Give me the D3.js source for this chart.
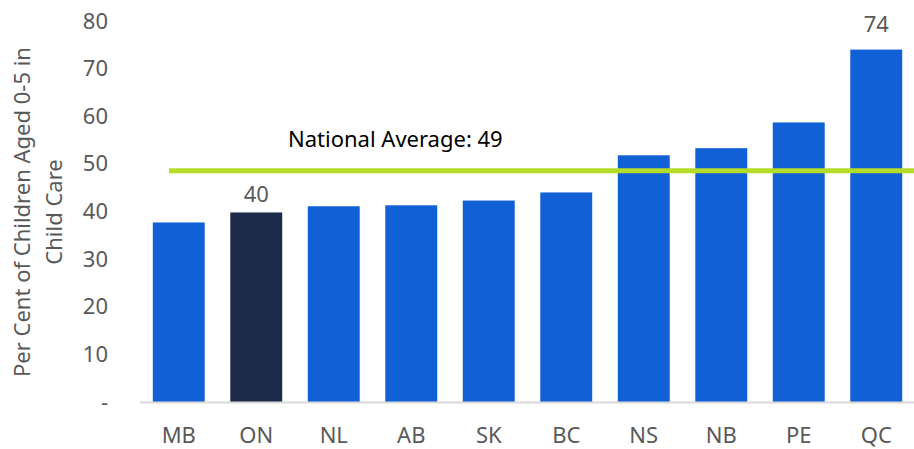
<!DOCTYPE html>
<html>
<head>
<meta charset="utf-8">
<script src="https://cdn.jsdelivr.net/npm/d3@7"></script>
<style>
  body { margin: 0; background: #fff; }
  text { font-family: "Noto Sans", "Open Sans", sans-serif; fill: #595959; }
</style>
</head>
<body>
<svg id="chart" width="914" height="449"></svg>
<script>
var provinces = ["MB", "ON", "NL", "AB", "SK", "BC", "NS", "NB", "PE", "QC"];
var childCareRates = [37.7, 39.8, 41.1, 41.3, 42.3, 44.0, 51.8, 53.3, 58.7, 74.0];
var labelledProvinces = {ON: "40", QC: "74"};
var nationalAverage = [49];
var yTicks = [0, 10, 20, 30, 40, 50, 60, 70, 80];

var BAR_BLUE = "#1160d5";
var BAR_NAVY = "#1c2b4a";
var AVG_GREEN = "#b5dc28";
var FONT = "22px";

var svg = d3.select("#chart");

var x = d3.scaleBand().domain(provinces).range([140, 915])
    .paddingInner(0.33).paddingOuter(0.165);
var y = d3.scaleLinear().domain([0, 80]).range([402, 21]);

// y axis labels, no axis line
var yAxis = d3.axisLeft(y).tickValues(yTicks).tickSize(0).tickPadding(0)
    .tickFormat(function (d) { return d === 0 ? "-" : d; });
var gy = svg.append("g").attr("transform", "translate(108,0)").call(yAxis);
gy.select(".domain").remove();
gy.selectAll("text").style("font-size", FONT).attr("fill", "#595959");

// bars
svg.append("g").selectAll("rect").data(provinces).join("rect")
    .attr("x", function (d) { return x(d); })
    .attr("width", x.bandwidth())
    .attr("y", function (d, i) { return y(childCareRates[i]); })
    .attr("height", function (d, i) { return y(0) - y(childCareRates[i]); })
    .attr("fill", function (d) { return d === "ON" ? BAR_NAVY : BAR_BLUE; });

// x axis
var xAxis = d3.axisBottom(x).tickSize(0).tickPadding(25);
var gx = svg.append("g").attr("transform", "translate(0," + y(0) + ")").call(xAxis);
gx.select(".domain").attr("stroke", "#d9d9d9").attr("stroke-width", 2)
    .attr("d", "M140,0.5H914");
gx.selectAll("text").style("font-size", FONT).attr("fill", "#595959");

// value labels (gap above bar)
var labelGap = {ON: 10, QC: 18};
svg.append("g").selectAll("text").data(provinces.filter(function (d) { return labelledProvinces[d]; }))
    .join("text")
    .attr("x", function (d) { return x(d) + x.bandwidth() / 2; })
    .attr("y", function (d) { return y(childCareRates[provinces.indexOf(d)]) - labelGap[d]; })
    .attr("text-anchor", "middle")
    .style("font-size", FONT)
    .text(function (d) { return labelledProvinces[d]; });

// national average line
svg.append("line")
    .attr("x1", 169).attr("x2", 914)
    .attr("y1", y(nationalAverage[0]) + 2).attr("y2", y(nationalAverage[0]) + 2)
    .attr("stroke", AVG_GREEN).attr("stroke-width", 5);

svg.append("text")
    .attr("x", 288).attr("y", 147)
    .style("font-size", FONT)
    .style("fill", "#000")
    .text("National Average: " + nationalAverage[0]);

// y axis title
var title = svg.append("text")
    .attr("transform", "translate(0,212) rotate(-90)")
    .attr("text-anchor", "middle")
    .style("font-size", FONT);
title.append("tspan").attr("x", 0).attr("y", 30).text("Per Cent of Children Aged 0-5 in");
title.append("tspan").attr("x", 0).attr("y", 62).text("Child Care");
</script>
</body>
</html>
